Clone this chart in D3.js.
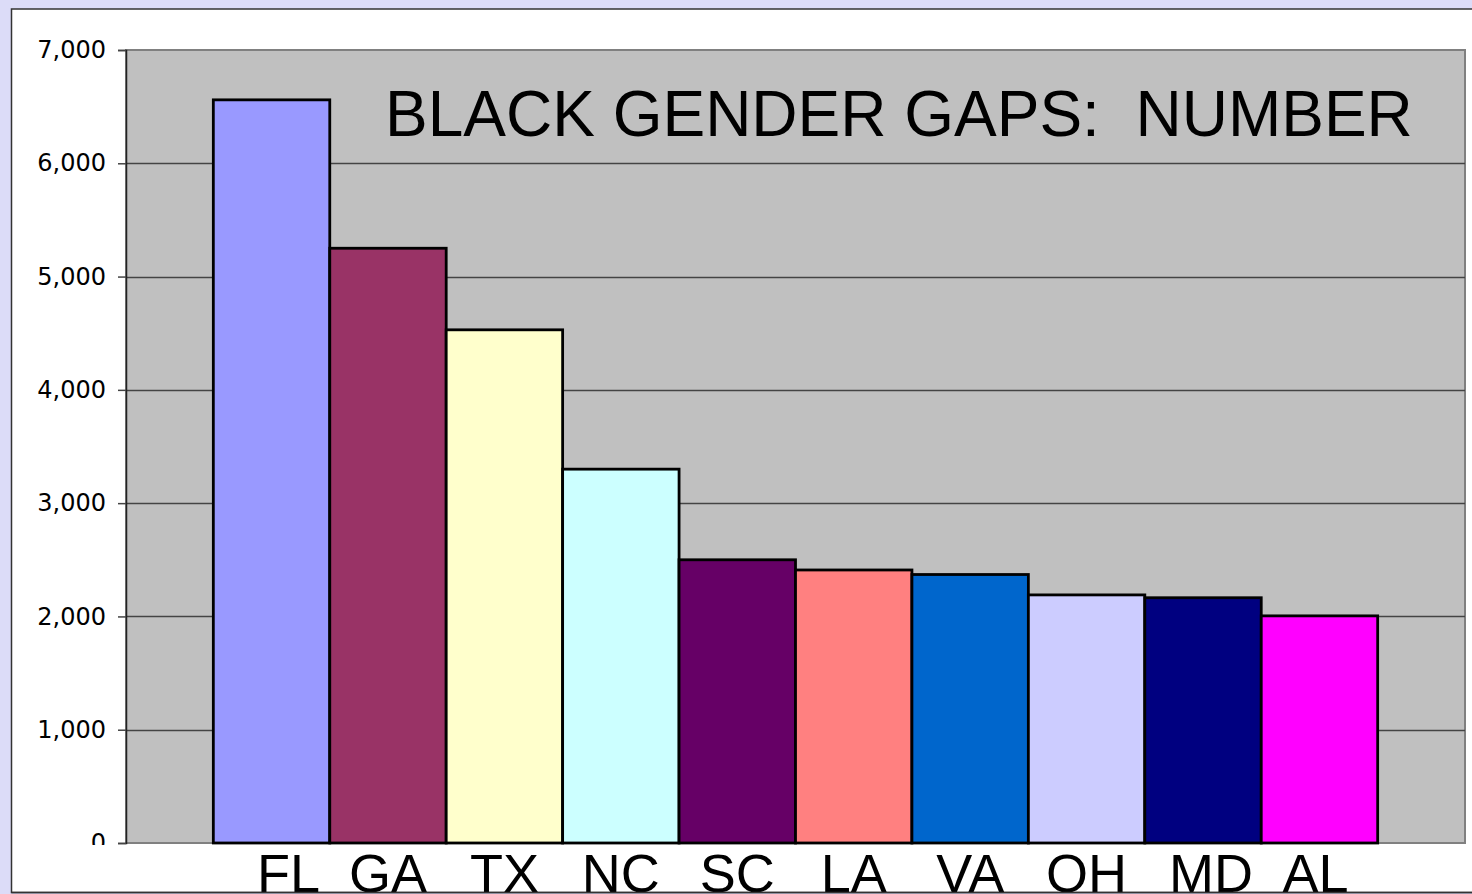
<!DOCTYPE html>
<html>
<head>
<meta charset="utf-8">
<script src="https://cdn.jsdelivr.net/npm/d3@7"></script>
<style>
  html, body { margin: 0; padding: 0; background: #dcdcf8; overflow: hidden; }
  svg { display: block; }
</style>
</head>
<body>
<script>
const states = ['FL', 'GA', 'TX', 'NC', 'SC', 'LA', 'VA', 'OH', 'MD', 'AL'];
const gaps   = [6560, 5250, 4530, 3300, 2500, 2410, 2370, 2190, 2165, 2005];
const colors = ['#9999ff', '#993366', '#ffffcc', '#ccffff', '#660066',
                '#ff8080', '#0066cc', '#ccccff', '#000080', '#ff00ff'];
const yTicks = [0, 1000, 2000, 3000, 4000, 5000, 6000, 7000];
const title  = 'BLACK GENDER GAPS:  NUMBER';

const width = 1472, height = 894;
const plot = { left: 126, right: 1465, top: 50, bottom: 843 };

// labels in the original sit in a text box, a little off the band centres
const labelNudge = { FL: 17, MD: 8, AL: -4 };

const svg = d3.select('body').append('svg')
  .attr('width', width)
  .attr('height', height);

// white chart panel
svg.append('rect')
  .attr('x', 11.5)
  .attr('y', 9)
  .attr('width', width)
  .attr('height', 883.5)
  .attr('fill', '#fff')
  .attr('stroke', '#333')
  .attr('stroke-width', 1.5);

const x = d3.scaleBand()
  .domain(states)
  .range([plot.left, plot.right])
  .paddingInner(0)
  .paddingOuter(0.75);

const y = d3.scaleLinear()
  .domain([0, 7000])
  .range([plot.bottom, plot.top]);

// plot area
svg.append('rect')
  .attr('x', plot.left)
  .attr('y', plot.top)
  .attr('width', plot.right - plot.left)
  .attr('height', plot.bottom - plot.top)
  .attr('fill', '#c0c0c0')
  .attr('stroke', '#808080')
  .attr('stroke-width', 2);

// grid lines
svg.append('g')
  .selectAll('line')
  .data(yTicks.filter(d => d > 0 && d < 7000))
  .join('line')
    .attr('x1', plot.left)
    .attr('x2', plot.right)
    .attr('y1', d => Math.round(y(d)) + 0.5)
    .attr('y2', d => Math.round(y(d)) + 0.5)
    .attr('stroke', '#444')
    .attr('stroke-width', 1.5);

svg.append('text')
  .text(title)
  .attr('x', 385)
  .attr('y', 136)
  .attr('font-family', 'Liberation Sans, Arial, sans-serif')
  .attr('font-size', 64)
  .attr('fill', '#000')
  .style('white-space', 'pre');

// bars
svg.append('g')
  .selectAll('rect')
  .data(states)
  .join('rect')
    .attr('x', d => x(d))
    .attr('y', (d, i) => y(gaps[i]))
    .attr('width', x.bandwidth())
    .attr('height', (d, i) => y(0) - y(gaps[i]))
    .attr('fill', (d, i) => colors[i])
    .attr('stroke', '#000')
    .attr('stroke-width', 2.8);

// y axis, the bottom label is half hidden under the category strip
svg.append('clipPath')
  .attr('id', 'yclip')
  .append('rect')
    .attr('x', -plot.left)
    .attr('y', 0)
    .attr('width', plot.left + 4)
    .attr('height', plot.bottom + 2);

const yAxis = svg.append('g')
  .attr('transform', `translate(${ plot.left },0)`)
  .attr('clip-path', 'url(#yclip)')
  .call(d3.axisLeft(y).tickValues(yTicks).tickFormat(d3.format(',')).tickSize(8).tickPadding(12));

yAxis.select('.domain')
  .attr('stroke', '#222')
  .attr('stroke-width', 1.5);

yAxis.selectAll('.tick line')
  .attr('stroke', '#444')
  .attr('stroke-width', 1.5);

yAxis.selectAll('.tick text')
  .attr('font-family', 'DejaVu Sans, Verdana, sans-serif')
  .attr('font-size', 24)
  .attr('fill', '#000');

// category labels
svg.append('g')
  .selectAll('text')
  .data(states)
  .join('text')
    .text(d => d)
    .attr('x', d => x(d) + x.bandwidth() / 2 + (labelNudge[d] || 0))
    .attr('y', 892)
    .attr('text-anchor', 'middle')
    .attr('font-family', 'Liberation Sans, Arial, sans-serif')
    .attr('font-size', 54)
    .attr('fill', '#000');

// panel bottom edge over the labels
svg.append('line')
  .attr('x1', 11.5)
  .attr('x2', width)
  .attr('y1', 892.5)
  .attr('y2', 892.5)
  .attr('stroke', '#333')
  .attr('stroke-width', 1.5);
</script>
</body>
</html>
